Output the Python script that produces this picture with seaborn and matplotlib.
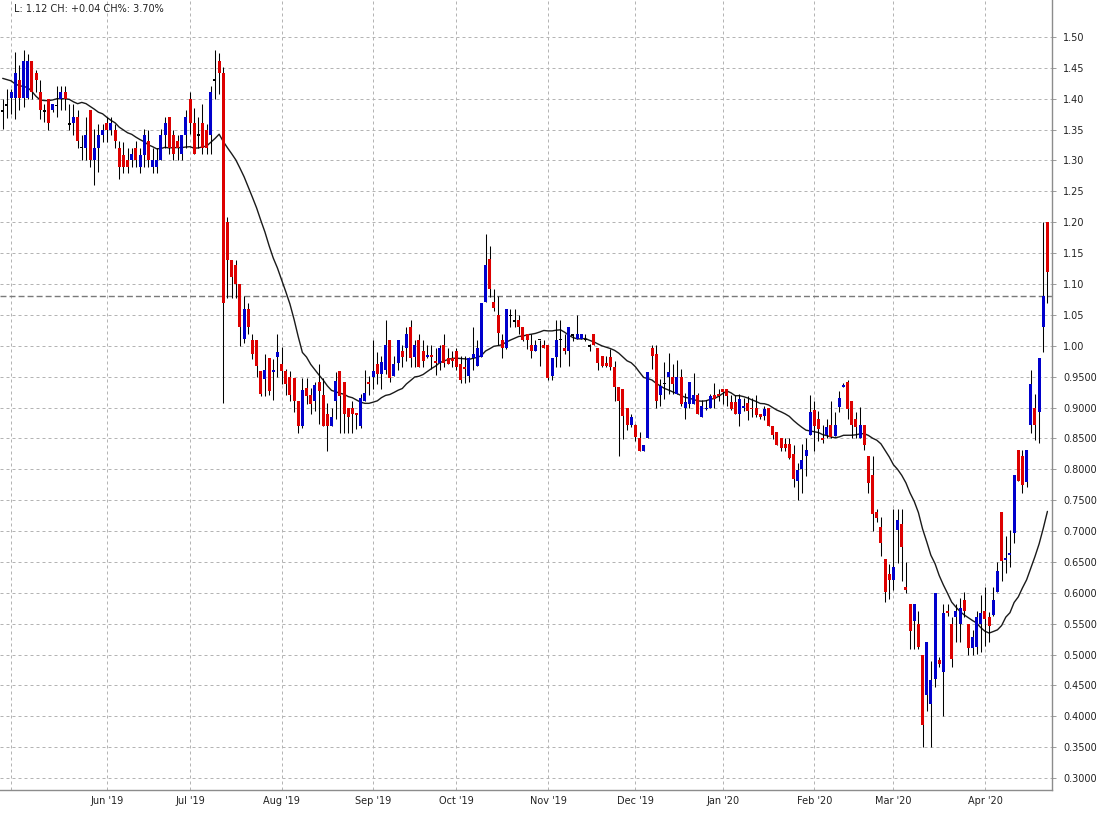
import numpy as np
import pandas as pd
import matplotlib
matplotlib.use("Agg")
import matplotlib.pyplot as plt
import seaborn as sns

# ---------------- data ----------------
opens = [1.38, 1.39, 1.401, 1.401, 1.43, 1.401, 1.401, 1.461, 1.441, 1.411,
         1.38, 1.40, 1.381, 1.389, 1.40, 1.411, 1.359, 1.36, 1.37, 1.321,
         1.321, 1.381, 1.301, 1.321, 1.341, 1.36, 1.35, 1.35, 1.321, 1.309,
         1.30, 1.30, 1.321, 1.29, 1.309, 1.331, 1.29, 1.29, 1.30, 1.341,
         1.37, 1.341, 1.331, 1.311, 1.341, 1.40, 1.36, 1.341, 1.36, 1.35,
         1.341, 1.43, 1.461, 1.441, 1.20, 1.139, 1.13, 1.10, 1.011, 1.06,
         1.009, 1.009, 0.959, 0.946, 0.98, 0.957, 0.981, 0.97, 0.959, 0.949,
         0.948, 0.91, 0.87, 0.931, 0.92, 0.91, 0.941, 0.92, 0.89, 0.87,
         0.91, 0.959, 0.941, 0.90, 0.90, 0.89, 0.87, 0.911, 0.941, 0.95,
         0.97, 0.955, 0.96, 1.01, 0.951, 0.972, 0.991, 0.996, 1.031, 0.982,
         1.01, 0.991, 0.982, 0.984, 0.976, 0.972, 1.001, 0.98, 0.98, 0.991,
         0.97, 0.966, 0.951, 0.98, 0.968, 0.982, 1.071, 1.14, 1.071, 1.05,
         1.01, 0.997, 1.049, 1.04, 1.041, 1.031, 1.019, 1.001, 0.991, 1.01,
         1.001, 1.001, 0.951, 0.982, 1.01, 0.996, 0.991, 1.018, 1.011, 1.011,
         1.01, 1.0, 1.019, 0.996, 0.984, 0.972, 0.982, 0.965, 0.933, 0.93,
         0.90, 0.871, 0.871, 0.851, 0.83, 0.851, 0.997, 0.987, 0.921, 0.939,
         0.95, 0.95, 0.922, 0.95, 0.90, 0.906, 0.906, 0.921, 0.885, 0.897,
         0.90, 0.921, 0.922, 0.93, 0.93, 0.909, 0.909, 0.89, 0.90, 0.908,
         0.90, 0.899, 0.89, 0.886, 0.899, 0.87, 0.861, 0.85, 0.841, 0.841,
         0.825, 0.781, 0.801, 0.821, 0.855, 0.896, 0.882, 0.85, 0.855, 0.872,
         0.854, 0.901, 0.933, 0.941, 0.911, 0.881, 0.851, 0.872, 0.821, 0.79,
         0.731, 0.707, 0.655, 0.631, 0.621, 0.701, 0.711, 0.61, 0.581, 0.554,
         0.55, 0.50, 0.434, 0.42, 0.461, 0.491, 0.472, 0.57, 0.55, 0.561,
         0.55, 0.588, 0.55, 0.511, 0.512, 0.55, 0.57, 0.56, 0.564, 0.601,
         0.73, 0.653, 0.661, 0.697, 0.831, 0.821, 0.78, 0.872, 0.90, 0.892,
         1.03, 1.20]
highs = [1.40, 1.416, 1.416, 1.476, 1.454, 1.479, 1.473, 1.461, 1.446, 1.43,
         1.392, 1.40, 1.392, 1.42, 1.42, 1.42, 1.391, 1.391, 1.381, 1.341,
         1.37, 1.381, 1.351, 1.359, 1.359, 1.37, 1.37, 1.359, 1.331, 1.33,
         1.321, 1.321, 1.331, 1.321, 1.351, 1.349, 1.321, 1.321, 1.351, 1.37,
         1.37, 1.35, 1.341, 1.341, 1.381, 1.411, 1.385, 1.37, 1.391, 1.359,
         1.42, 1.479, 1.474, 1.451, 1.209, 1.139, 1.139, 1.10, 1.081, 1.07,
         1.019, 1.009, 0.959, 0.986, 0.98, 0.978, 1.019, 0.998, 0.962, 0.959,
         0.948, 0.91, 0.948, 0.948, 0.932, 0.941, 0.97, 0.948, 0.908, 0.90,
         0.957, 0.959, 0.941, 0.90, 0.911, 0.89, 0.922, 0.96, 0.951, 1.009,
         0.99, 0.984, 1.041, 1.01, 0.984, 1.01, 1.001, 1.031, 1.041, 1.01,
         1.019, 1.01, 1.001, 1.001, 0.996, 1.001, 1.019, 0.996, 0.991, 0.996,
         0.984, 0.984, 0.982, 1.031, 1.01, 1.07, 1.181, 1.161, 1.092, 1.08,
         1.019, 1.06, 1.06, 1.06, 1.05, 1.031, 1.019, 1.019, 1.01, 1.01,
         1.01, 1.001, 0.98, 1.041, 1.041, 1.019, 1.031, 1.019, 1.05, 1.019,
         1.019, 1.003, 1.019, 0.996, 0.984, 0.984, 0.995, 0.976, 0.933, 0.93,
         0.90, 0.89, 0.874, 0.86, 0.84, 0.957, 1.001, 1.001, 0.946, 0.973,
         0.988, 0.97, 0.977, 0.962, 0.924, 0.941, 0.956, 0.924, 0.912, 0.912,
         0.922, 0.94, 0.93, 0.93, 0.93, 0.921, 0.921, 0.922, 0.916, 0.919,
         0.916, 0.921, 0.89, 0.903, 0.899, 0.87, 0.861, 0.85, 0.85, 0.85,
         0.839, 0.81, 0.841, 0.85, 0.92, 0.911, 0.895, 0.872, 0.881, 0.911,
         0.892, 0.927, 0.939, 0.945, 0.911, 0.892, 0.901, 0.872, 0.821, 0.821,
         0.736, 0.723, 0.655, 0.647, 0.735, 0.735, 0.735, 0.65, 0.581, 0.581,
         0.57, 0.50, 0.52, 0.489, 0.60, 0.496, 0.581, 0.581, 0.56, 0.581,
         0.591, 0.601, 0.55, 0.539, 0.57, 0.596, 0.61, 0.569, 0.61, 0.65,
         0.73, 0.692, 0.701, 0.79, 0.831, 0.831, 0.831, 0.96, 0.922, 0.98,
         1.20, 1.20]
lows = [1.351, 1.369, 1.376, 1.368, 1.381, 1.386, 1.40, 1.40, 1.411, 1.368,
        1.362, 1.349, 1.378, 1.37, 1.381, 1.381, 1.349, 1.341, 1.321, 1.301,
        1.301, 1.289, 1.26, 1.281, 1.33, 1.33, 1.341, 1.321, 1.27, 1.28,
        1.28, 1.29, 1.29, 1.28, 1.29, 1.289, 1.28, 1.28, 1.30, 1.321,
        1.311, 1.30, 1.30, 1.30, 1.321, 1.343, 1.311, 1.321, 1.311, 1.311,
        1.311, 1.40, 1.408, 0.908, 1.078, 1.078, 1.078, 1.00, 1.005, 1.019,
        0.978, 0.949, 0.919, 0.919, 0.92, 0.912, 0.949, 0.938, 0.921, 0.911,
        0.892, 0.859, 0.867, 0.905, 0.889, 0.895, 0.873, 0.87, 0.83, 0.87,
        0.881, 0.859, 0.859, 0.859, 0.859, 0.865, 0.867, 0.911, 0.921, 0.93,
        0.938, 0.93, 0.955, 0.942, 0.951, 0.96, 0.965, 0.976, 0.965, 0.965,
        0.965, 0.965, 0.98, 0.963, 0.953, 0.96, 0.965, 0.97, 0.965, 0.96,
        0.94, 0.94, 0.942, 0.96, 0.968, 0.982, 1.071, 1.079, 1.057, 1.001,
        0.98, 0.995, 1.03, 1.03, 1.019, 1.008, 0.995, 0.98, 0.991, 0.968,
        0.996, 0.945, 0.945, 0.965, 0.965, 0.987, 0.968, 1.008, 1.011, 1.011,
        1.008, 0.992, 1.001, 0.96, 0.965, 0.965, 0.96, 0.911, 0.822, 0.849,
        0.863, 0.868, 0.846, 0.83, 0.829, 0.851, 0.963, 0.90, 0.903, 0.914,
        0.922, 0.922, 0.922, 0.903, 0.881, 0.90, 0.905, 0.89, 0.885, 0.896,
        0.90, 0.90, 0.91, 0.905, 0.903, 0.896, 0.889, 0.87, 0.895, 0.879,
        0.884, 0.884, 0.881, 0.879, 0.87, 0.849, 0.84, 0.829, 0.829, 0.816,
        0.771, 0.751, 0.761, 0.789, 0.855, 0.83, 0.845, 0.842, 0.85, 0.85,
        0.854, 0.892, 0.933, 0.882, 0.85, 0.85, 0.85, 0.831, 0.762, 0.70,
        0.715, 0.659, 0.585, 0.59, 0.604, 0.648, 0.619, 0.60, 0.509, 0.509,
        0.509, 0.35, 0.409, 0.35, 0.447, 0.48, 0.40, 0.562, 0.48, 0.52,
        0.52, 0.561, 0.499, 0.499, 0.501, 0.504, 0.514, 0.52, 0.562, 0.601,
        0.619, 0.632, 0.641, 0.68, 0.781, 0.761, 0.771, 0.858, 0.848, 0.842,
        0.99, 1.07]
closes = [1.38, 1.39, 1.411, 1.441, 1.401, 1.461, 1.461, 1.411, 1.431, 1.381,
          1.38, 1.361, 1.391, 1.389, 1.411, 1.40, 1.359, 1.37, 1.331, 1.321,
          1.341, 1.301, 1.321, 1.341, 1.35, 1.35, 1.36, 1.331, 1.29, 1.29,
          1.29, 1.31, 1.30, 1.309, 1.341, 1.301, 1.30, 1.30, 1.341, 1.36,
          1.321, 1.311, 1.321, 1.341, 1.37, 1.36, 1.311, 1.341, 1.321, 1.321,
          1.411, 1.43, 1.441, 1.07, 1.139, 1.111, 1.10, 1.031, 1.06, 1.031,
          0.986, 0.968, 0.922, 0.96, 0.927, 0.96, 0.99, 0.959, 0.938, 0.921,
          0.911, 0.87, 0.929, 0.919, 0.905, 0.937, 0.927, 0.87, 0.87, 0.885,
          0.943, 0.919, 0.89, 0.884, 0.89, 0.888, 0.916, 0.923, 0.938, 0.959,
          0.954, 0.974, 1.001, 0.948, 0.971, 1.01, 0.982, 1.019, 0.98, 1.001,
          0.965, 0.975, 0.984, 0.982, 0.972, 0.997, 0.972, 0.97, 0.975, 0.966,
          0.945, 0.962, 0.98, 0.987, 0.997, 1.07, 1.13, 1.092, 1.061, 1.021,
          0.997, 1.06, 1.049, 1.04, 1.031, 1.01, 1.01, 0.991, 1.001, 1.01,
          0.996, 0.948, 0.98, 1.01, 1.01, 0.992, 1.031, 1.018, 1.019, 1.019,
          1.01, 1.0, 1.001, 0.972, 0.968, 0.968, 0.965, 0.933, 0.911, 0.887,
          0.871, 0.884, 0.853, 0.83, 0.84, 0.957, 0.983, 0.911, 0.935, 0.939,
          0.958, 0.938, 0.95, 0.906, 0.909, 0.941, 0.921, 0.89, 0.902, 0.90,
          0.918, 0.913, 0.919, 0.925, 0.919, 0.897, 0.89, 0.914, 0.903, 0.895,
          0.897, 0.888, 0.884, 0.897, 0.87, 0.855, 0.84, 0.834, 0.835, 0.818,
          0.785, 0.799, 0.815, 0.831, 0.893, 0.87, 0.866, 0.847, 0.868, 0.853,
          0.872, 0.916, 0.936, 0.897, 0.872, 0.869, 0.872, 0.839, 0.777, 0.728,
          0.721, 0.681, 0.601, 0.621, 0.642, 0.718, 0.674, 0.604, 0.538, 0.581,
          0.512, 0.386, 0.52, 0.459, 0.60, 0.484, 0.568, 0.567, 0.492, 0.57,
          0.576, 0.57, 0.511, 0.529, 0.56, 0.568, 0.558, 0.546, 0.588, 0.636,
          0.652, 0.657, 0.664, 0.79, 0.781, 0.774, 0.831, 0.938, 0.872, 0.98,
          1.08, 1.12]
# 20-day moving average values for the first bars (depend on earlier data)
ma_head = [1.433, 1.431, 1.429, 1.424, 1.421, 1.42, 1.418, 1.412, 1.404, 1.398,
           1.397, 1.397, 1.398, 1.40, 1.40, 1.40, 1.399, 1.395, 1.392]
ma_window = 20
month_pos = [2, 25, 45, 67, 89, 109, 131, 152, 173, 195, 214, 236]
month_labels = ["", "Jun '19", "Jul '19", "Aug '19", "Sep '19", "Oct '19",
                "Nov '19", "Dec '19", "Jan '20", "Feb '20", "Mar '20", "Apr '20"]
prev_close = 1.08
y_tick_values = [0.30, 0.35, 0.40, 0.45, 0.50, 0.55, 0.60, 0.65, 0.70, 0.75,
                 0.80, 0.85, 0.90, 0.95, 1.00, 1.05, 1.10, 1.15, 1.20, 1.25,
                 1.30, 1.35, 1.40, 1.45, 1.50]
header = "L: 1.12 CH: +0.04 CH%: 3.70%"

UP, DOWN, FLAT = "#0000cc", "#dd0000", "#000000"

# ---------------- figure ----------------
sns.set_style("white")
plt.rcParams["font.family"] = ["DejaVu Sans"]

df = pd.DataFrame({"o": opens, "h": highs, "l": lows, "c": closes})
df["i"] = np.arange(len(df))
ma = df["c"].rolling(ma_window).mean()
ma.iloc[:len(ma_head)] = ma_head
df["ma"] = ma

fig = plt.figure(figsize=(11.04, 8.15), dpi=100)
ax = fig.add_axes([0, 25 / 815, 1052 / 1104, 790 / 815])

grid_kw = dict(color="#b4b4b4", lw=0.72, ls=(0, (3, 3)), zorder=0)
for v in y_tick_values:
    ax.axhline(v, **grid_kw)
for m in month_pos:
    ax.axvline(m, **grid_kw)
ax.axhline(prev_close, color="#7a7a7a", lw=1.0, ls=(0, (4.3, 2.2)), zorder=1)

sns.lineplot(data=df, x="i", y="ma", ax=ax, color="#1a1a1a", lw=1.0, zorder=2)

ax.vlines(df["i"], df["l"], df["h"], color="black", lw=0.75, zorder=3)
colors = np.where(df["c"] > df["o"], UP, np.where(df["c"] < df["o"], DOWN, FLAT))
body_lo = np.minimum(df["o"], df["c"])
body_h = np.abs(df["c"] - df["o"])
min_h = 0.0028
bottoms = np.where(body_h < min_h, (df["o"] + df["c"]) / 2 - min_h / 2, body_lo)
heights = np.maximum(body_h, min_h)
ax.bar(df["i"], heights, bottom=bottoms, width=0.72, color=colors,
       linewidth=0, zorder=4)

ax.set_xlim(-0.65, 252.1)
ax.set_ylim(0.2806, 1.5599)

ax.yaxis.tick_right()
ax.set_yticks(y_tick_values)
ax.set_yticklabels([f"{v:.2f}" if v >= 1 else f"{v:.4f}" for v in y_tick_values])
ax.set_xticks(month_pos)
ax.set_xticklabels(month_labels)
ax.tick_params(axis="y", which="both", right=True, left=False, length=3,
               width=0.6, color="#8c8c8c", pad=5, labelsize=7, labelcolor="#222222")
ax.tick_params(axis="x", length=0, pad=4, labelsize=7, labelcolor="#222222")
ax.set_xlabel("")
ax.set_ylabel("")

for side in ["top", "left"]:
    ax.spines[side].set_visible(False)
for side in ["right", "bottom"]:
    ax.spines[side].set_color("#8c8c8c")
    ax.spines[side].set_linewidth(1.0)

fig.text(14 / 1104, 1 - 9 / 815, header, ha="left", va="center",
         fontsize=7, color="#222222")

fig.savefig("out.png", dpi=100)
